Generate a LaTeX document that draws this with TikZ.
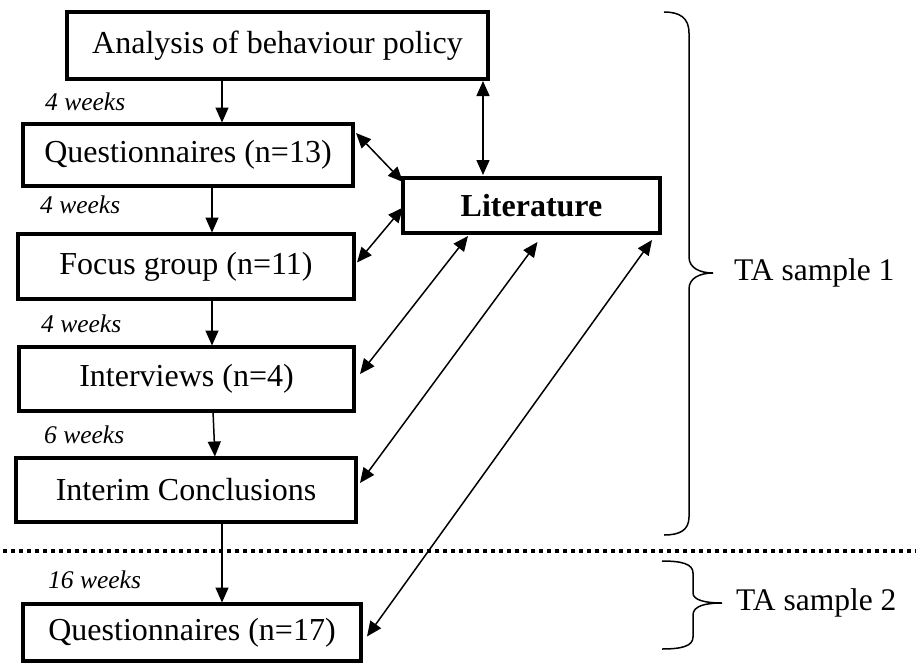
\documentclass[tikz,border=0pt]{standalone}
\usepackage{fontspec}
\setmainfont{Liberation Serif}
\usetikzlibrary{arrows.meta,calc}
\begin{document}
\begin{tikzpicture}[x=1pt,y=-1pt,
  box/.style={draw, line width=3.5pt, inner sep=0pt, outer sep=0pt, font=\fontsize{32}{36}\selectfont},
  arr/.style={line width=1.5pt, -{Triangle[length=15pt,width=13pt]}, shorten >=1.5pt},
  darr/.style={line width=1.5pt, {Triangle[length=15pt,width=13pt]}-{Triangle[length=15pt,width=13pt]}},
  wk/.style={font=\fontsize{25.5}{28}\selectfont\itshape, anchor=base west, inner sep=0pt},
  lbl/.style={font=\fontsize{31.5}{36}\selectfont, anchor=west, inner sep=0pt},
  brace/.style={line width=1.5pt}]
\useasboundingbox (0,0) rectangle (916,664);

% boxes
\node[box, minimum width=421pt, minimum height=67pt] (A) at (277.5,45.5) {Analysis of behaviour policy};
\node[box, minimum width=330pt, minimum height=62pt] (Q1) at (188,155) {Questionnaires (n=13)};
\node[box, minimum width=257pt, minimum height=55pt] (L) at (531.5,205.5) {\bfseries Literature};
\node[box, minimum width=336pt, minimum height=65pt] (F) at (186,266.5) {Focus group (n=11)};
\node[box, minimum width=335pt, minimum height=64pt] (I) at (186.5,379) {Interviews (n=4)};
\node[box, minimum width=340pt, minimum height=64pt] (C) at (186,490) {Interim Conclusions};
\node[box, minimum width=338pt, minimum height=57pt] (Q2) at (192,632.5) {Questionnaires (n=17)};

% week labels
\node[wk] (w1) at (45,110) {4 weeks};
\node[wk] (w2) at (40,213) {4 weeks};
\node[wk] (w3) at (41,332) {4 weeks};
\node[wk] (w4) at (44,443) {6 weeks};
\node[wk] (w5) at (48,588) {16 weeks};

% vertical flow arrows
\coordinate (v1) at (222,0);
\coordinate (v2) at (212,0);
\coordinate (v4a) at (213,0);
\coordinate (v4b) at (215,0);
\coordinate (vL) at (483,0);
\draw[arr] (A.south -| v1) -- (Q1.north -| v1);
\draw[arr] (Q1.south -| v2) -- (F.north -| v2);
\draw[arr] (F.south -| v2) -- (I.north -| v2);
\draw[arr] (I.south -| v4a) -- (C.north -| v4b);
\draw[arr] (C.south -| v1) -- (Q2.north -| v1);

% literature connectors
\draw[darr, shorten <=2pt, shorten >=3pt] (A.south -| vL) -- (L.north -| vL);
\draw[darr] ($(Q1.north east)+(3,9)$) -- ($(L.north west)+(0,4)$);
\draw[darr] ($(F.east)+(3,-4)$) -- ($(L.west)+(0,2)$);
\draw[darr] ($(I.east)+(6,-5)$) -- ($(L.south west)+(65,3)$);
\draw[darr] ($(C.east)+(4,-7)$) -- ($(L.south)+(6,9)$);
\draw[darr] ($(Q2.east)+(6,4)$) -- ($(L.south east)+(-8,7)$);

% dotted separator
\coordinate (d1) at (3,551);
\coordinate (d2) at (916,551);
\draw[line width=3.3pt, dash pattern=on 4pt off 4pt] (d1) -- (d2);

% braces
\draw[brace] (664,12) .. controls (680,12) and (689,18) .. (689,33) -- (689,257)
  .. controls (689,268) and (700,273) .. (713,273)
  .. controls (700,273) and (689,278) .. (689,289) -- (689,517)
  .. controls (689,530) and (680,535) .. (664,535);
\draw[brace] (662,561) .. controls (682,561) and (693,564) .. (693,573) -- (693,593)
  .. controls (693,600) and (705,603) .. (722,603)
  .. controls (705,603) and (693,606) .. (693,615) -- (693,637)
  .. controls (693,646) and (682,649) .. (662,649);
\node[lbl] (t1) at (734,273) {TA sample 1};
\node[lbl] (t2) at (736,603) {TA sample 2};
\end{tikzpicture}
\end{document}
